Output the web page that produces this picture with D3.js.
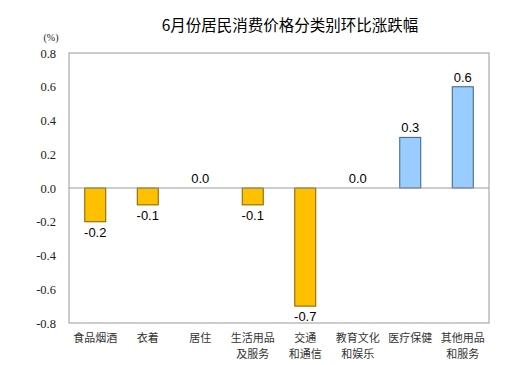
<!DOCTYPE html>
<html>
<head>
<meta charset="utf-8">
<script src="https://cdn.jsdelivr.net/npm/d3@7"></script>
<style>
  body { margin: 0; background: #fff; }
</style>
</head>
<body>
<svg id="chart"></svg>
<script>
var categories = [
  ["食品烟酒"], ["衣着"], ["居住"], ["生活用品", "及服务"],
  ["交通", "和通信"], ["教育文化", "和娱乐"], ["医疗保健"], ["其他用品", "和服务"]
];
var values = [-0.2, -0.1, 0.0, -0.1, -0.7, 0.0, 0.3, 0.6];
var yTicks = [-0.8, -0.6, -0.4, -0.2, 0.0, 0.2, 0.4, 0.6, 0.8];
var titleText = "6月份居民消费价格分类别环比涨跌幅";
var unitText = "(%)";

var width = 524, height = 365;
var margin = { top: 53, right: 35, bottom: 42, left: 69 };

// plain hyphen for negatives, like the source
var fmt = function (d) { return d.toFixed(1); };

var svg = d3.select("#chart").attr("width", width).attr("height", height);

var x = d3.scaleBand()
  .domain(d3.range(categories.length))
  .range([margin.left, width - margin.right])
  .paddingInner(0.6)
  .paddingOuter(0.3);

var y = d3.scaleLinear()
  .domain([-0.8, 0.8])
  .range([height - margin.bottom, margin.top]);

// title
svg.append("text")
  .attr("x", 290)
  .attr("y", 31)
  .attr("text-anchor", "middle")
  .style("font-family", "'Noto Sans CJK SC', sans-serif")
  .style("font-size", "15.5px")
  .style("fill", "#000")
  .text(titleText);

svg.append("text")
  .attr("x", 51)
  .attr("y", 41)
  .attr("text-anchor", "middle")
  .style("font-family", "'Liberation Serif', serif")
  .style("font-size", "10px")
  .style("fill", "#222")
  .text(unitText);

// frame
svg.append("rect")
  .attr("x", margin.left)
  .attr("y", margin.top)
  .attr("width", width - margin.left - margin.right)
  .attr("height", height - margin.top - margin.bottom)
  .style("fill", "none")
  .style("stroke", "#9a9a9a")
  .style("stroke-width", 1);

// y axis labels
var yAxis = d3.axisLeft(y)
  .tickValues(yTicks)
  .tickSize(0)
  .tickPadding(13)
  .tickFormat(fmt);

var gy = svg.append("g")
  .attr("transform", "translate(" + margin.left + ",0)")
  .call(yAxis);
gy.select(".domain").remove();
gy.selectAll("text")
  .attr("font-family", null)
  .style("font-family", "'Liberation Serif', 'DejaVu Serif', serif")
  .style("font-size", "12.5px")
  .style("fill", "#222");

// bars
svg.append("g")
  .selectAll("rect")
  .data(values)
  .enter()
  .append("rect")
  .attr("x", function (d, i) { return x(i); })
  .attr("y", function (d) { return y(Math.max(0, d)); })
  .attr("width", x.bandwidth())
  .attr("height", function (d) { return Math.abs(y(d) - y(0)); })
  .style("fill", function (d) { return d > 0 ? "#99ccff" : "#ffc000"; })
  .style("stroke", function (d) { return d > 0 ? "#3f5f7f" : "#7f6000"; })
  .style("stroke-width", 1);

// zero line
svg.append("line")
  .attr("x1", margin.left)
  .attr("x2", width - margin.right)
  .attr("y1", y(0))
  .attr("y2", y(0))
  .style("stroke", "#9a9a9a")
  .style("stroke-width", 1);

// value labels
svg.append("g")
  .selectAll("text")
  .data(values)
  .enter()
  .append("text")
  .attr("x", function (d, i) { return x(i) + x.bandwidth() / 2; })
  .attr("y", function (d) { return d < 0 ? y(d) + 15 : y(d) - 5; })
  .attr("text-anchor", "middle")
  .style("font-family", "'Liberation Sans', Arial, sans-serif")
  .style("font-size", "13px")
  .style("fill", "#000")
  .text(fmt);

// category labels, one text per line
var lines = [];
categories.forEach(function (c, i) {
  c.forEach(function (t, j) { lines.push({ i: i, j: j, t: t }); });
});

svg.append("g")
  .selectAll("text")
  .data(lines)
  .enter()
  .append("text")
  .attr("x", function (d) { return x(d.i) + x.bandwidth() / 2; })
  .attr("y", function (d) { return height - margin.bottom + 19 + d.j * 16; })
  .attr("text-anchor", "middle")
  .style("font-family", "'Noto Sans CJK SC', sans-serif")
  .style("font-size", "11px")
  .style("fill", "#333")
  .text(function (d) { return d.t; });
</script>
</body>
</html>
